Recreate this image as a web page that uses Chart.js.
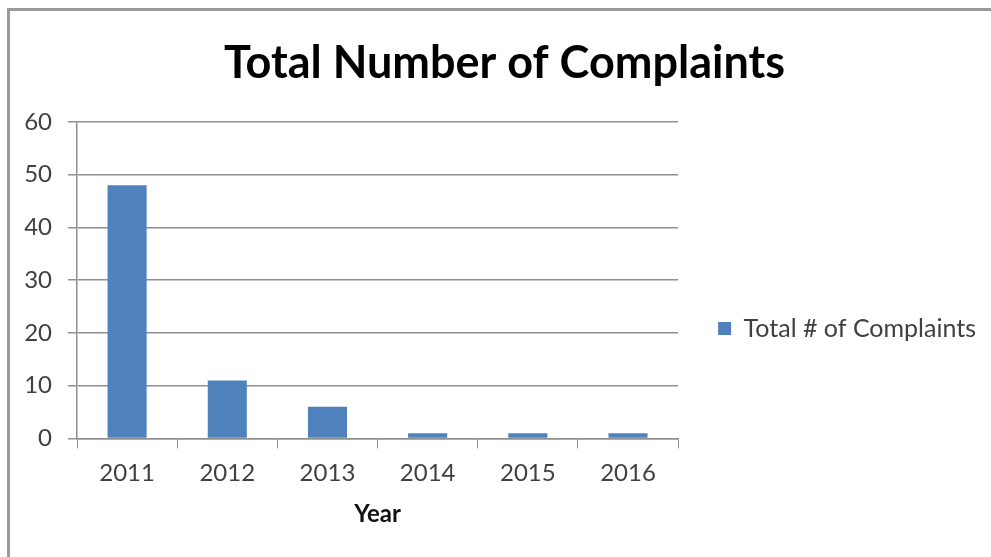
<!DOCTYPE html>
<html><head><meta charset="utf-8">
<script src="https://cdn.jsdelivr.net/npm/chart.js@4"></script>
<style>
html,body{margin:0;padding:0;background:#fff;width:991px;height:557px;overflow:hidden;}
#frame{position:absolute;left:7px;top:8px;width:984px;height:549px;border-left:3px solid #9a9a9a;border-top:3px solid #9a9a9a;box-sizing:border-box;}
#wrap{position:absolute;left:0;top:0;width:991px;height:557px;}
</style></head><body>
<div id="frame"></div>
<div id="wrap"><canvas id="c"></canvas></div>
<script>
const categories = ['2011','2012','2013','2014','2015','2016'];
const complaints = [48, 11, 6, 1, 1, 1];
const seriesName = 'Total # of Complaints';
const titleText = 'Total Number of Complaints';
const xTitle = 'Year';
const yTicks = [0,10,20,30,40,50,60];

const FONT = 'Lato, "Open Sans", sans-serif';
const GRID = '#8f8f8f';
new Chart(document.getElementById('c'), {
  type: 'bar',
  data: { labels: categories, datasets: [{ label: seriesName, data: complaints, backgroundColor: '#4F81BD', borderWidth: 0, barPercentage: 0.39, categoryPercentage: 1.0, yAxisID: 'y' }] },
  options: {
    responsive: true, maintainAspectRatio: false, animation: false,
    layout: { padding: { left: 23, right: 5, top: 36, bottom: 28 } },
    plugins: {
      title: { display: true, text: titleText, color: '#000', font: { family: FONT, size: 45, weight: 'bold' }, padding: { top: 0, bottom: 32 } },
      legend: {
        position: 'right', align: 'start', maxWidth: 400,
        title: { display: true, text: '', font: { size: 10 }, padding: { top: 258, bottom: 0 } },
        labels: { boxWidth: 13, boxHeight: 13, padding: 10, color: '#404040', font: { family: FONT, size: 25 } }
      },
      tooltip: { enabled: false }
    },
    scales: {
      x: {
        grid: { offset: true, drawOnChartArea: false, color: GRID, tickLength: 10, tickColor: GRID },
        border: { color: GRID, width: 1.5 },
        ticks: { color: '#404040', font: { family: FONT, size: 24 }, padding: 10 },
        title: { display: true, text: xTitle, color: '#111', font: { family: FONT, size: 24, weight: 'bold' }, padding: { top: 3, bottom: 0 } }
      },
      y: {
        min: 0, max: 60,
        afterBuildTicks: (s) => { s.ticks = yTicks.map(v => ({ value: v })); },
        afterFit: (s) => { s.width = 54; },
        grid: { color: GRID, lineWidth: 1.5, tickLength: 9, tickColor: GRID },
        border: { color: GRID, width: 1.5 },
        ticks: { color: '#404040', font: { family: FONT, size: 24 }, padding: 16 }
      },
      gap: {
        position: 'right', display: true,
        grid: { display: false, drawOnChartArea: false, drawTicks: false },
        border: { display: false },
        ticks: { display: false },
        afterFit: (s) => { s.width = 30; }
      }
    }
  }
});
</script>
</body></html>
